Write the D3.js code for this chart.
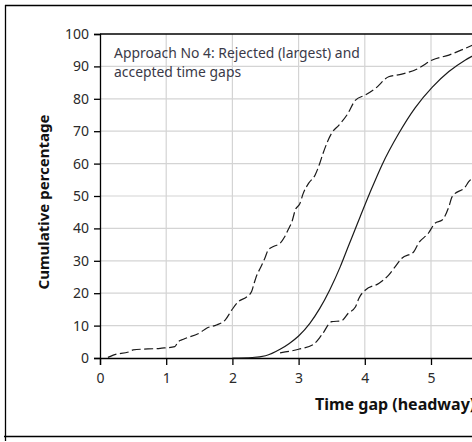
<!DOCTYPE html>
<html>
<head>
<meta charset="utf-8">
<script src="https://cdn.jsdelivr.net/npm/d3@7"></script>
<style>
  body { margin: 0; background: #fff; }
  svg { display: block; font-family: "Noto Sans", "Open Sans", sans-serif; }
</style>
</head>
<body>
<svg id="chart" width="472" height="442"></svg>
<script>
const svg = d3.select('#chart')

// rejected (largest) gaps - left dashed curve
const rejectedX = [0.12, 0.2, 0.45, 0.5, 0.91, 1.13, 1.18, 1.26, 1.51, 1.61, 1.76, 1.89, 1.99, 2.09, 2.22, 2.29, 2.32, 2.37, 2.42, 2.49, 2.54, 2.62, 2.72, 2.79, 2.84, 2.9, 2.95, 3.02, 3.07, 3.15, 3.25, 3.32, 3.37, 3.5, 3.61, 3.73, 3.86, 4.01, 4.16, 4.36, 4.56, 4.81, 5.02, 5.27, 5.52, 5.7]
const rejectedY = [0.2, 0.9, 2.0, 2.5, 3.0, 3.5, 5.0, 5.8, 7.8, 9.2, 10.2, 11.7, 14.8, 17.4, 18.9, 20.5, 22.5, 25.6, 27.7, 30.8, 33.3, 34.4, 35.4, 37.4, 39.5, 42.1, 45.7, 47.7, 50.8, 53.9, 56.5, 60.1, 63.2, 69.4, 71.9, 75.0, 79.6, 81.2, 83.2, 86.8, 87.6, 89.4, 92.0, 93.5, 95.6, 97.2]

// fitted distribution - solid curve
const fittedX = [2.0, 2.3, 2.5, 2.72, 2.86, 3.0, 3.17, 3.32, 3.47, 3.63, 3.75, 3.85, 3.93, 4.11, 4.26, 4.51, 4.76, 5.02, 5.27, 5.52, 5.7]
const fittedY = [0.0, 0.15, 0.7, 2.7, 4.5, 6.8, 10.7, 15.3, 21.0, 28.2, 34.4, 39.5, 43.6, 52.6, 59.6, 69.2, 77.2, 83.6, 88.4, 92.0, 94.0]

// accepted gaps - right dashed curve
const acceptedX = [2.72, 3.0, 3.23, 3.35, 3.5, 3.65, 3.75, 3.86, 3.91, 4.01, 4.21, 4.36, 4.46, 4.56, 4.74, 4.81, 4.96, 5.06, 5.17, 5.27, 5.32, 5.52, 5.57, 5.7]
const acceptedY = [1.6, 2.7, 4.3, 7.1, 11.2, 11.5, 13.8, 15.8, 18.4, 21.0, 23.0, 25.6, 28.2, 30.8, 32.8, 35.4, 38.5, 41.6, 42.6, 46.7, 49.8, 52.9, 54.4, 56.5]

const xTicks = [0, 1, 2, 3, 4, 5]
const yTicks = [0, 10, 20, 30, 40, 50, 60, 70, 80, 90, 100]

const plotLeft = 100, plotTop = 34, plotBottom = 358
const x = d3.scaleLinear().domain([0, 8]).range([plotLeft, plotLeft + 8 * 66.2])
const y = d3.scaleLinear().domain([0, 100]).range([plotBottom, plotTop])

// outer frame
svg.append('line').attr('x1', 5.5).attr('x2', 5.5).attr('y1', 5).attr('y2', 441).attr('stroke', '#000').attr('stroke-width', 1.3)
svg.append('line').attr('x1', 5).attr('x2', 472).attr('y1', 5.5).attr('y2', 5.5).attr('stroke', '#000').attr('stroke-width', 1.3)
svg.append('line').attr('x1', 4).attr('x2', 472).attr('y1', 436.5).attr('y2', 436.5).attr('stroke', '#000').attr('stroke-width', 1.3)

// grid
svg.append('g')
  .selectAll('line')
  .data(yTicks.filter(d => d > 0 && d < 100))
  .join('line')
    .attr('x1', plotLeft).attr('x2', 472)
    .attr('y1', d => y(d)).attr('y2', d => y(d))
    .attr('stroke', '#d4d4d4').attr('stroke-width', 1.2)
svg.append('g')
  .selectAll('line')
  .data(xTicks.filter(d => d > 0))
  .join('line')
    .attr('x1', d => x(d)).attr('x2', d => x(d))
    .attr('y1', plotTop).attr('y2', plotBottom)
    .attr('stroke', '#d4d4d4').attr('stroke-width', 1.2)

// top frame of plot
svg.append('line').attr('x1', plotLeft).attr('x2', 472).attr('y1', plotTop).attr('y2', plotTop).attr('stroke', '#000').attr('stroke-width', 1.3)

// axes
const yAxis = svg.append('g')
  .attr('transform', 'translate(' + plotLeft + ',0)')
  .call(d3.axisLeft(y).tickValues(yTicks).tickSize(6).tickPadding(5))
const xAxis = svg.append('g')
  .attr('transform', 'translate(0,' + plotBottom + ')')
  .call(d3.axisBottom(x).tickValues(xTicks).tickSize(7).tickPadding(8))

for (const ax of [xAxis, yAxis]) {
  ax.select('.domain').attr('stroke', '#000').attr('stroke-width', 1.3)
  ax.selectAll('.tick line').attr('stroke', '#000').attr('stroke-width', 1.3)
  ax.selectAll('.tick text').attr('fill', '#2a2a2a').style('font-size', '14px').style('font-family', '"Noto Sans", sans-serif')
}

// curves
const line = d3.line().x(d => x(d[0])).y(d => y(d[1])).curve(d3.curveMonotoneX)
const curves = [
  {xs: rejectedX, ys: rejectedY, dash: '9,3.5'},
  {xs: fittedX, ys: fittedY, dash: null},
  {xs: acceptedX, ys: acceptedY, dash: '9,3.5'}
]
curves.forEach(c => {
  svg.append('path')
    .datum(c.xs.map((v, i) => [v, c.ys[i]]))
    .attr('fill', 'none')
    .attr('stroke', '#1a1a1a')
    .attr('stroke-width', 1.2)
    .attr('stroke-dasharray', c.dash)
    .attr('d', line)
})

// annotation
const note = svg.append('text')
  .attr('x', 114).attr('y', 58)
  .attr('fill', '#3a3a48')
  .style('font-size', '13.9px')
note.append('tspan').attr('x', 114).text('Approach No 4: Rejected (largest) and')
note.append('tspan').attr('x', 114).attr('dy', 18.5).text('accepted time gaps')

// axis titles
svg.append('text')
  .attr('transform', 'translate(49,202) rotate(-90)')
  .attr('text-anchor', 'middle')
  .attr('fill', '#111')
  .style('font-size', '15px')
  .style('font-weight', 'bold')
  .text('Cumulative percentage')

svg.append('text')
  .attr('x', 315).attr('y', 410)
  .attr('fill', '#111')
  .style('font-size', '16px')
  .style('font-weight', 'bold')
  .text('Time gap (headway), s')
</script>
</body>
</html>
